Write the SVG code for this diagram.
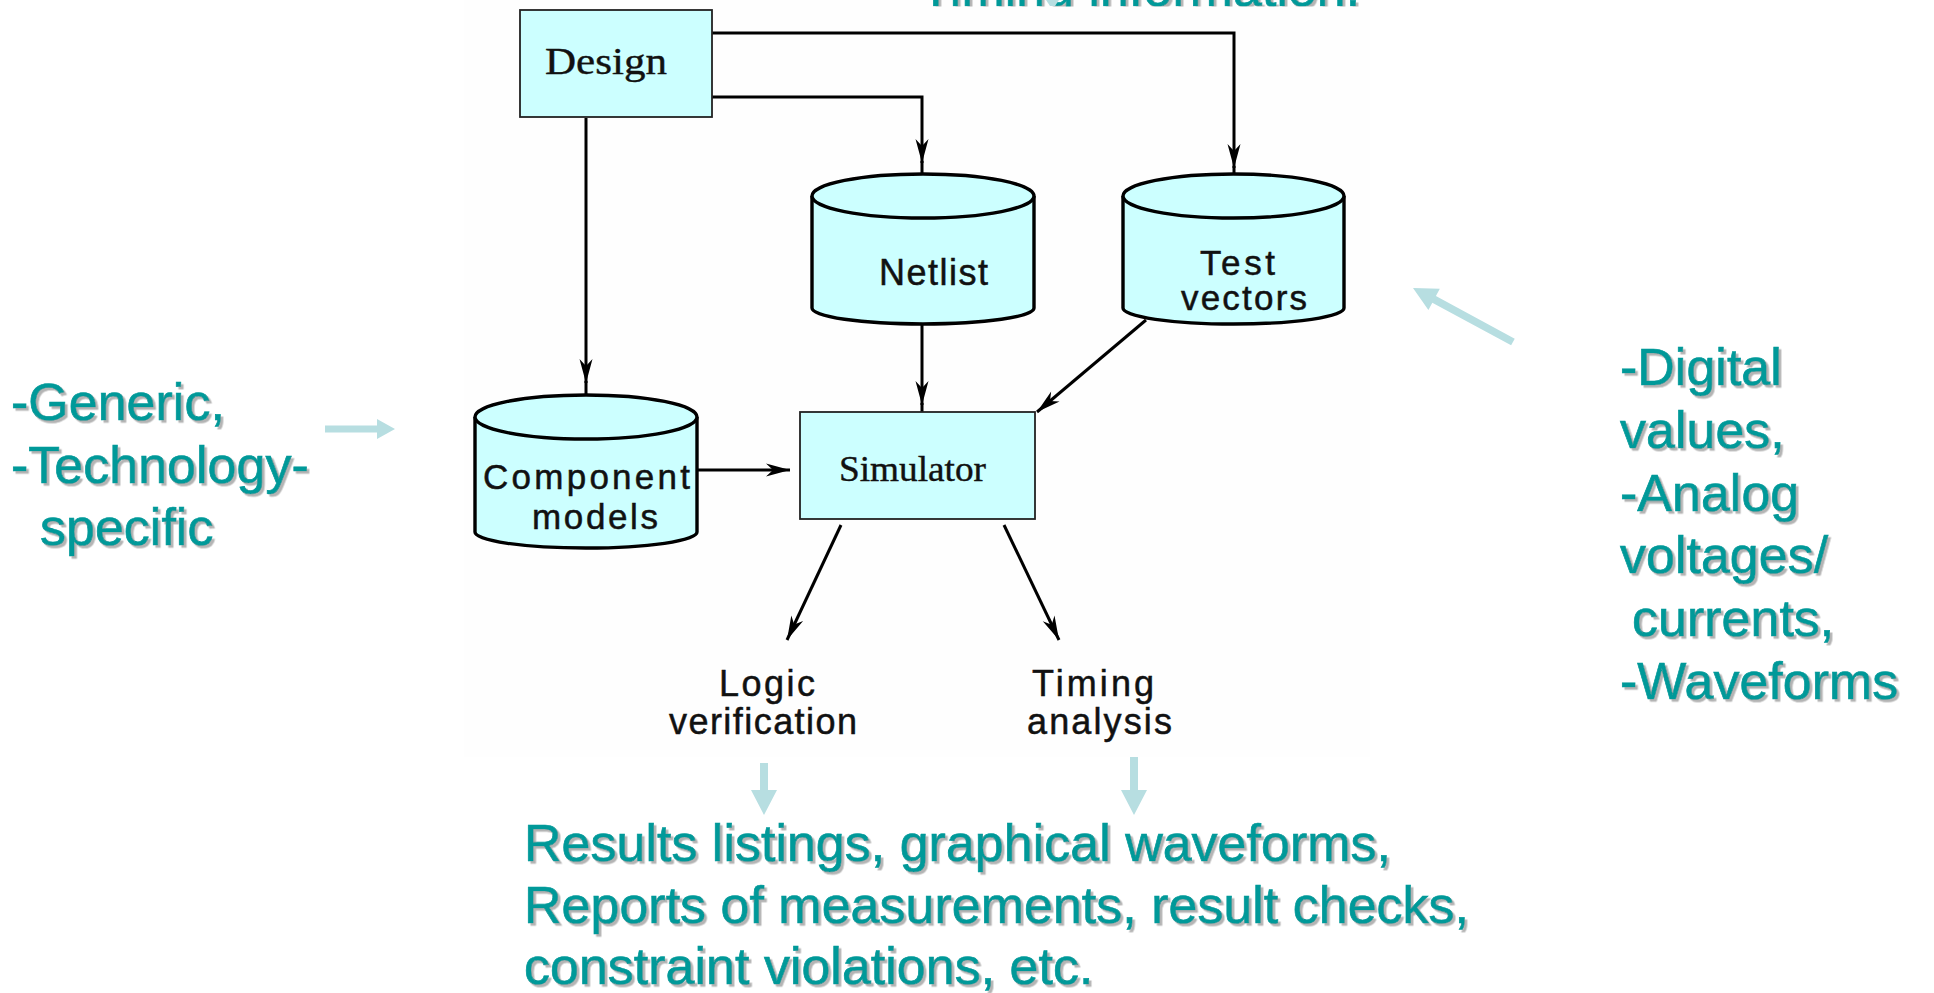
<svg xmlns="http://www.w3.org/2000/svg" width="1934" height="993" viewBox="0 0 1934 993">
  <defs>
    <style>
      .box { fill: #ccffff; stroke: #222; stroke-width: 1.8; }
      .cyl { fill: #ccffff; stroke: #000; stroke-width: 3.4; stroke-linejoin: round; }
      .wire { fill: none; stroke: #000; stroke-width: 3; }
      .serif { font-family: "Liberation Serif", "Times New Roman", serif; fill: #111; stroke: #111; stroke-width: 0.4; }
      .sans { font-family: "Liberation Sans", Arial, sans-serif; fill: #111; stroke: #111; stroke-width: 0.5; }
      .note { font-family: "Liberation Sans", Arial, sans-serif; font-size: 52px; fill: #009999; stroke: #009999; stroke-width: 0.7; filter: url(#shadow); }
      .hint { fill: #b7dee1; }
    </style>
    <marker id="head" viewBox="-26 -8 28 16" refX="0" refY="0" markerWidth="28" markerHeight="16" markerUnits="userSpaceOnUse" orient="auto">
      <path d="M0,0 L-24,-6.5 L-17,0 L-24,6.5 Z" fill="#000"/>
    </marker>
    <filter id="shadow" x="-5%" y="-20%" width="110%" height="140%">
      <feDropShadow dx="2.5" dy="2.5" stdDeviation="0.6" flood-color="#b4b4b4" flood-opacity="1"/>
    </filter>
    <clipPath id="topStrip">
      <rect x="0" y="0" width="1934" height="6.5"/>
    </clipPath>
  </defs>

  <!-- page -->
  <rect x="0" y="0" width="1934" height="993" fill="#ffffff"/>
  <rect x="464" y="0" width="906" height="757" fill="#fefefe"/>

  <!-- heading line, mostly above the page edge -->
  <g id="timing-note" clip-path="url(#topStrip)">
    <text class="note" x="920" y="6">Timing information.</text>
  </g>
  <polygon class="hint" points="1046,0 1059,0 1055,6 1050,6"/>

  <!-- connectors -->
  <g id="connectors">
    <path class="wire" d="M712,33 H1234 V168" marker-end="url(#head)"/>
    <path class="wire" d="M1234,166 V175"/>
    <path class="wire" d="M712,97 H922 V163" marker-end="url(#head)"/>
    <path class="wire" d="M922,161 V174"/>
    <path class="wire" d="M586,118 V383" marker-end="url(#head)"/>
    <path class="wire" d="M586,381 V395"/>
    <path class="wire" d="M922,324 V405" marker-end="url(#head)"/>
    <path class="wire" d="M922,403 V412"/>
    <path class="wire" d="M1146,320 L1037,412" marker-end="url(#head)"/>
    <path class="wire" d="M697,470 H790" marker-end="url(#head)"/>
    <path class="wire" d="M841,525 L787,640" marker-end="url(#head)"/>
    <path class="wire" d="M1004,525 L1059,640" marker-end="url(#head)"/>
  </g>

  <!-- Design block -->
  <g id="design">
    <rect class="box" x="520" y="10" width="192" height="107"/>
    <text class="serif" x="545" y="74" font-size="38" textLength="122" lengthAdjust="spacingAndGlyphs">Design</text>
  </g>

  <!-- Netlist store -->
  <g id="netlist">
    <path class="cyl" d="M812,196 V308 A111,16 0 0 0 1034,308 V196"/>
    <ellipse class="cyl" cx="923" cy="196" rx="111" ry="22"/>
    <text class="sans" x="879" y="285" font-size="36" textLength="109" lengthAdjust="spacing">Netlist</text>
  </g>

  <!-- Test vectors store -->
  <g id="test-vectors">
    <path class="cyl" d="M1123,196 V308 A110.5,16 0 0 0 1344,308 V196"/>
    <ellipse class="cyl" cx="1233.5" cy="196" rx="110.5" ry="22"/>
    <text class="sans" x="1200" y="275" font-size="35" textLength="75" lengthAdjust="spacing">Test</text>
    <text class="sans" x="1181" y="310" font-size="35" textLength="126" lengthAdjust="spacing">vectors</text>
  </g>

  <!-- Component models store -->
  <g id="component-models">
    <path class="cyl" d="M475,417 V532 A111,16 0 0 0 697,532 V417"/>
    <ellipse class="cyl" cx="586" cy="417" rx="111" ry="22"/>
    <text class="sans" x="483" y="489" font-size="35" textLength="207" lengthAdjust="spacing">Component</text>
    <text class="sans" x="532" y="529" font-size="35" textLength="126" lengthAdjust="spacing">models</text>
  </g>

  <!-- Simulator block -->
  <g id="simulator">
    <rect class="box" x="800" y="412" width="235" height="107"/>
    <text class="serif" x="839" y="481" font-size="35" textLength="147" lengthAdjust="spacingAndGlyphs">Simulator</text>
  </g>

  <!-- outputs -->
  <g id="logic-verification">
    <text class="sans" x="719" y="696" font-size="36" textLength="96" lengthAdjust="spacing">Logic</text>
    <text class="sans" x="669" y="734" font-size="36" textLength="188" lengthAdjust="spacing">verification</text>
  </g>
  <g id="timing-analysis">
    <text class="sans" x="1032" y="696" font-size="36" textLength="122" lengthAdjust="spacing">Timing</text>
    <text class="sans" x="1027" y="734" font-size="36" textLength="145" lengthAdjust="spacing">analysis</text>
  </g>

  <!-- callout arrows -->
  <g id="callout-arrows">
    <polygon class="hint" points="325,425.5 377,425.5 377,419 395,429 377,439 377,432.5 325,432.5"/>
    <polygon class="hint" transform="translate(1413,288) rotate(208.4)" points="-113.6,-3.8 -24,-3.8 -24,-12 0,0 -24,12 -24,3.8 -113.6,3.8"/>
    <polygon class="hint" points="760,763 768,763 768,790 777,790 764,815 751,790 760,790"/>
    <polygon class="hint" points="1130,757 1138,757 1138,790 1147,790 1134,815 1121,790 1130,790"/>
  </g>

  <!-- annotations -->
  <g id="library-note">
    <text class="note" x="11" y="420">-Generic,</text>
    <text class="note" x="11" y="483">-Technology-</text>
    <text class="note" x="40" y="545">specific</text>
  </g>
  <g id="stimulus-note">
    <text class="note" x="1620" y="385">-Digital</text>
    <text class="note" x="1620" y="448">values,</text>
    <text class="note" x="1620" y="511">-Analog</text>
    <text class="note" x="1620" y="573">voltages/</text>
    <text class="note" x="1632" y="636">currents,</text>
    <text class="note" x="1620" y="699">-Waveforms</text>
  </g>
  <g id="results-note">
    <text class="note" x="524" y="861">Results listings, graphical waveforms,</text>
    <text class="note" x="524" y="923">Reports of measurements, result checks,</text>
    <text class="note" x="524" y="984">constraint violations, etc.</text>
  </g>
</svg>
